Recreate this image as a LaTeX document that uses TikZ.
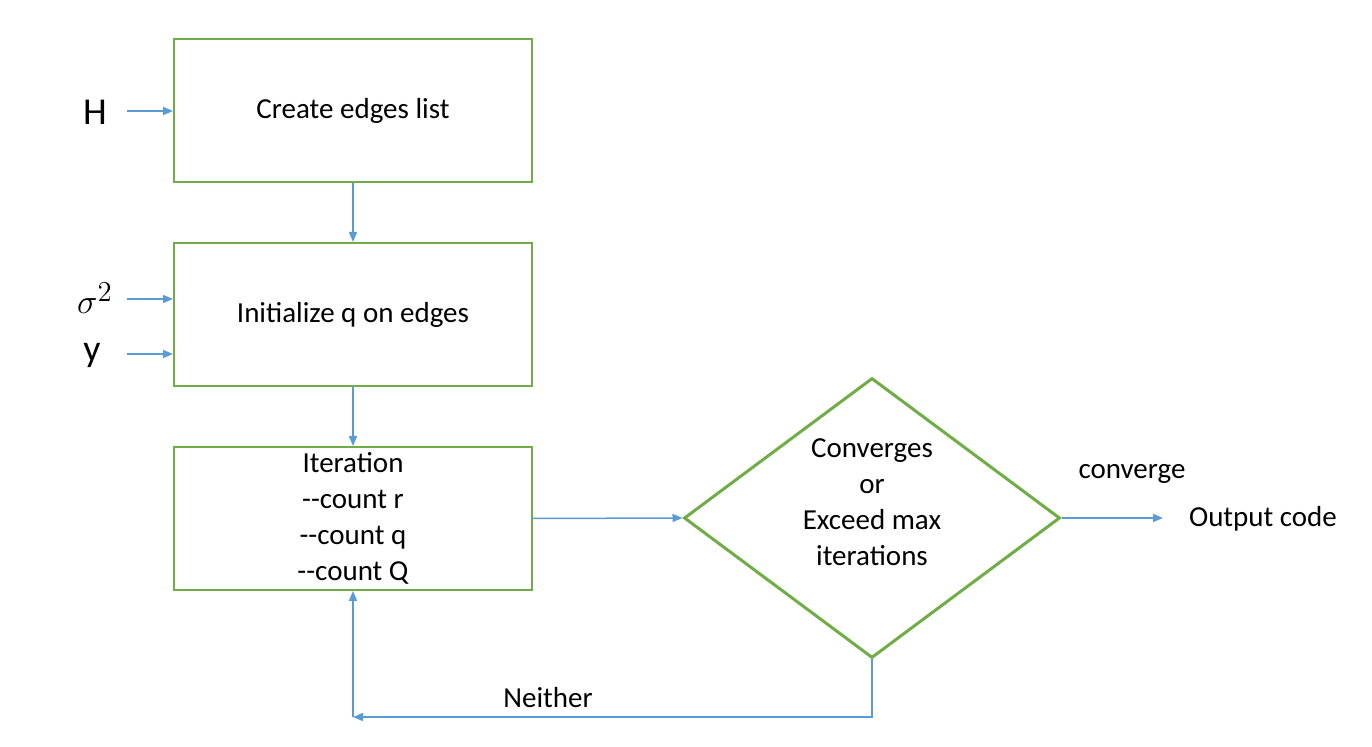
\documentclass[tikz,border=0pt]{standalone}
\usepackage{fontspec}
\setmainfont{Carlito}
\usetikzlibrary{shapes.geometric,arrows.meta}
\definecolor{boxgreen}{RGB}{112,173,71}
\definecolor{lineblue}{RGB}{91,155,213}
\tikzset{
  stepbox/.style = {draw = boxgreen, line width = 1pt, minimum width = 179pt,
    minimum height = 71.5pt, inner sep = 0pt, align = center,
    font = \fontsize{14.5}{18}\selectfont},
  decide/.style = {draw = boxgreen, line width = 1.5pt, shape = diamond,
    minimum width = 188pt, minimum height = 140pt, inner sep = 0pt},
  arr/.style = {draw = lineblue, line width = 0.75pt,
    -{Triangle[length = 5pt, width = 4pt]}},
  txt/.style = {font = \fontsize{14.5}{18}\selectfont, align = center},
  inp/.style = {font = \fontsize{19}{22}\selectfont}
}
\begin{document}
\begin{tikzpicture}[x = 0.5pt, y = -0.5pt]
  \useasboundingbox (0,0) rectangle (1372,747);
  % boxes
  \node[stepbox](edges)at(353,110.5){Create edges list};
  \node[stepbox](init)at(353,314.5){Initialize q on edges};
  \node[stepbox](iter)at(353,518.5){Iteration\\-{}-count r\\-{}-count q\\-{}-count Q};
  % decision
  \node[decide](dec)at(872,518){};
  \node[txt](dectext)at(872,502){Converges\\or\\Exceed max\\iterations};
  % inputs
  \node[inp](inH)at(95,112){H};
  \node[inp](inS)at(95,298){$\sigma^{2}$};
  \node[inp](inY)at(92,355){y};
  \coordinate(aH)at(127,111);
  \coordinate(aS)at(127,299);
  \coordinate(aY)at(127,354);
  \draw[arr](aH)--(aH -| edges.west);
  \draw[arr](aS)--(aS -| init.west);
  \draw[arr](aY)--(aY -| init.west);
  % flow
  \draw[arr](edges.south)--(init.north);
  \draw[arr](init.south)--(iter.north);
  \draw[arr](iter.east)--(dec.west);
  % output
  \node[txt, anchor = west](out)at(1182,519){Output code};
  \coordinate(outend)at(1163,518);
  \draw[arr](dec.east)--(outend);
  \node[txt](conv)at(1132,474){converge};
  % loop back
  \coordinate(turn)at(353,717);
  \draw[arr](dec.south)|-(turn);
  \draw[arr](turn)--(iter.south);
  \node[txt](nei)at(548,698){Neither};
\end{tikzpicture}
\end{document}
